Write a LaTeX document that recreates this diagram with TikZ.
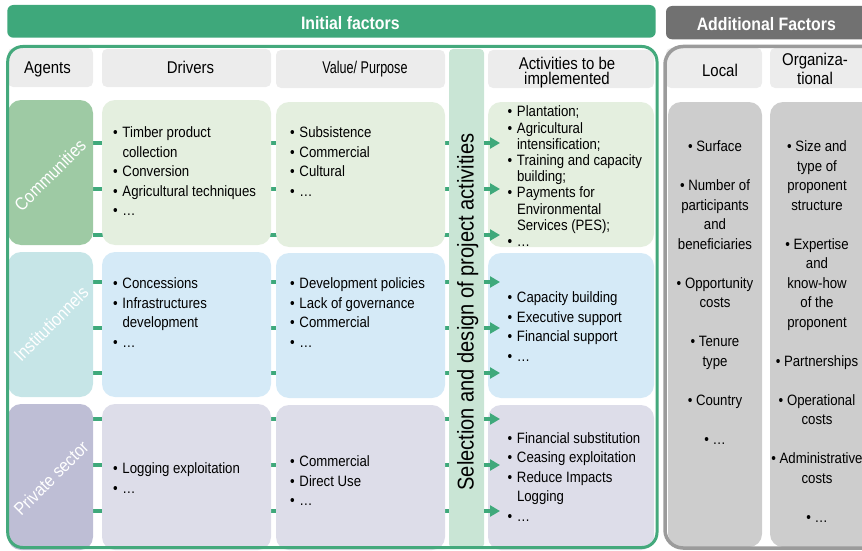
\documentclass[tikz,border=0pt]{standalone}
\usepackage{fontspec}
\setmainfont{Liberation Sans}[FakeStretch=0.88]
\newfontfamily\condensed{Liberation Sans}[FakeStretch=0.74]
\usetikzlibrary{arrows.meta}
\definecolor{gban}{HTML}{3EA87B}
\definecolor{gframe}{HTML}{44A97C}
\definecolor{greyban}{HTML}{717171}
\definecolor{greyframe}{HTML}{9B9B9B}
\definecolor{hdrgrey}{HTML}{ECECEC}
\definecolor{selg}{HTML}{C9E5D5}
\definecolor{agA}{HTML}{9ECAA4}
\definecolor{bxA}{HTML}{E4EFDF}
\definecolor{agB}{HTML}{C6E5E7}
\definecolor{bxB}{HTML}{D5EAF7}
\definecolor{agC}{HTML}{BEBED5}
\definecolor{bxC}{HTML}{DDDDE9}
\definecolor{addg}{HTML}{CDCDCD}
\definecolor{connc}{HTML}{3FA97B}
\pgfdeclarelayer{bg}
\pgfdeclarelayer{fg}
\pgfsetlayers{bg,main,fg}
\newcommand\bl{\makebox[9.5pt][l]{\textbullet}}
\newcommand\ind{\hspace*{9.5pt}}
\newcommand\lf{\fontsize{15}{19.5}\selectfont}
\newcommand\lft{\fontsize{15}{16.2}\selectfont}
\newcommand\hf{\fontsize{17}{15.5}\selectfont}
\newcommand\bnf{\fontsize{18}{20}\selectfont\bfseries}
\newcommand\boxnode[6]{\node[#6, minimum width={#4-#2}, minimum height={#5-#3}] (#1) at (#2,#3) {};}
\begin{document}
\begin{tikzpicture}[x=1pt,y=-1pt,
  every node/.style={inner sep=0pt, outer sep=0pt},
  rbox/.style={rounded corners=13pt, anchor=north west},
  hdr/.style={rounded corners=5pt, fill=hdrgrey, anchor=north west},
  lst/.style={anchor=north west, align=left, font=\lf},
  lstt/.style={anchor=north west, align=left, font=\lft},
  ctr/.style={anchor=north, align=center, font=\lf},
  htxt/.style={anchor=base, font=\hf, align=center},
  conn/.style={draw=connc, line width=3.2pt},
  arr/.style={conn, -{Triangle[length=10pt,width=11pt]}, shorten >=-12pt},
  agtxt/.style={text=white, font=\fontsize{18}{18}\selectfont, rotate=45, anchor=center},
]
\useasboundingbox (0,0) rectangle (862,551);

% banners
\boxnode{ban1}{7.3}{5}{655.7}{37.7}{rbox, rounded corners=6pt, fill=gban}
\node[font=\bnf, text=white, anchor=base] (ban1t) at (350.3,30) {Initial factors};
\boxnode{ban2}{666}{6}{900}{39.3}{rbox, rounded corners=6pt, fill=greyban}
\node[font=\bnf, text=white, anchor=base] (ban2t) at (766.3,30.7) {Additional Factors};

% header cells
\boxnode{hAg}{8}{48}{93}{87}{hdr}
\boxnode{hDr}{102}{49}{271}{87}{hdr}
\boxnode{hVa}{276}{50}{445}{88}{hdr}
\boxnode{hAc}{488}{50}{654}{88}{hdr}
\boxnode{hLo}{666}{48}{762}{88}{hdr}
\boxnode{hOr}{770}{48}{880}{88}{hdr}
\node[htxt] (hAgt) at (47.5,74) {Agents};
\node[htxt] (hDrt) at (190.5,74) {Drivers};
\node[htxt, font=\condensed\hf] (hVat) at (365,74) {Value/ Purpose};
\node[htxt, anchor=north] (hAct) at (567,57) {Activities to be\\implemented};
\node[htxt] (hLot) at (720,76.5) {Local};
\node[htxt, anchor=north, font=\fontsize{17}{19}\selectfont] (hOrt) at (815,53) {Organiza-\\tional};

% selection column
\boxnode{sel}{449}{49}{484}{548}{fill=selg, anchor=north west, rounded corners=4pt}
\node[rotate=90, anchor=base, font=\fontsize{22.8}{24}\selectfont] (selt) at (473.5,312) {Selection and design of project activities};

% row 1
\boxnode{ag1}{8}{100}{93}{245}{rbox, fill=agA}
\boxnode{dr1}{102}{100}{271}{245}{rbox, fill=bxA}
\boxnode{va1}{276}{102}{445}{247}{rbox, fill=bxA}
\boxnode{ac1}{488}{102}{654}{247}{rbox, fill=bxA}
% row 2
\boxnode{ag2}{8}{252}{93}{397}{rbox, fill=agB}
\boxnode{dr2}{102}{252}{271}{397}{rbox, fill=bxB}
\boxnode{va2}{276}{253}{445}{398}{rbox, fill=bxB}
\boxnode{ac2}{488}{253}{654}{398}{rbox, fill=bxB}
% row 3
\boxnode{ag3}{8}{404}{93}{550}{rbox, fill=agC}
\boxnode{dr3}{102}{404}{271}{550}{rbox, fill=bxC}
\boxnode{va3}{276}{405}{445}{550}{rbox, fill=bxC}
\boxnode{ac3}{488}{405}{654}{550}{rbox, fill=bxC}
% additional
\boxnode{lo}{668}{102}{762}{547}{rbox, fill=addg}
\boxnode{or}{770}{102}{890}{547}{rbox, fill=addg}

% agent labels
\node[agtxt] (ag1t) at (50,175) {Communities};
\node[agtxt] (ag2t) at (51,324) {Institutionnels};
\node[agtxt] (ag3t) at (51,478) {Private sector};

% row 1 texts
\node[lst] (dr1t) at (113,126.8) {\bl Timber product\\\ind collection\\\bl Conversion\\\bl Agricultural techniques\\\bl …};
\node[lst] (va1t) at (290,126.8) {\bl Subsistence\\\bl Commercial\\\bl Cultural\\\bl …};
\node[lstt] (ac1t) at (507.5,106) {\bl Plantation;\\\bl Agricultural\\\ind intensification;\\\bl Training and capacity\\\ind building;\\\bl Payments for\\\ind Environmental\\\ind Services (PES);\\\bl …};
% row 2 texts
\node[lst] (dr2t) at (113,277.8) {\bl Concessions\\\bl Infrastructures\\\ind development\\\bl …};
\node[lst] (va2t) at (290,277.8) {\bl Development policies\\\bl Lack of governance\\\bl Commercial\\\bl …};
\node[lst] (ac2t) at (507.5,291.8) {\bl Capacity building\\\bl Executive support\\\bl Financial support\\\bl …};
% row 3 texts
\node[lst] (dr3t) at (113,463) {\bl Logging exploitation\\\bl …};
\node[lst] (va3t) at (290,455.8) {\bl Commercial\\\bl Direct Use\\\bl …};
\node[lst] (ac3t) at (507.5,432.3) {\bl Financial substitution\\\bl Ceasing exploitation\\\bl Reduce Impacts\\\ind Logging\\\bl …};
% additional texts
\node[ctr] (lot) at (715,140.8) {\textbullet\ Surface\\[19.5pt]\textbullet\ Number of\\participants\\and\\beneficiaries\\[19.5pt]\textbullet\ Opportunity\\costs\\[19.5pt]\textbullet\ Tenure\\type\\[19.5pt]\textbullet\ Country\\[19.5pt]\textbullet\ …};
\node[ctr] (ort) at (817,140.8) {\textbullet\ Size and\\type of\\proponent\\structure\\[19.5pt]\textbullet\ Expertise\\and\\know-how\\of the\\proponent\\[19.5pt]\textbullet\ Partnerships\\[19.5pt]\textbullet\ Operational\\costs\\[19.5pt]\textbullet\ Administrative\\costs\\[19.5pt]\textbullet\ …};

% frames
\boxnode{gfr}{7.7}{46.5}{657}{547.5}{anchor=north west, draw=gframe, line width=3pt, rounded corners=15pt}
\boxnode{grf}{665}{46.5}{905}{548}{anchor=north west, draw=greyframe, line width=3.5pt, rounded corners=18pt}

% connectors
\begin{pgfonlayer}{bg}
\foreach \y in {143,189,235} \draw[conn] (ag1.east |- 0,\y) -- (ac1.west |- 0,\y);
\foreach \y in {282,328,373} \draw[conn] (ag2.east |- 0,\y) -- (ac2.west |- 0,\y);
\foreach \y in {419,465,511} \draw[conn] (ag3.east |- 0,\y) -- (ac3.west |- 0,\y);
\end{pgfonlayer}
\begin{pgfonlayer}{fg}
\foreach \y in {143,189,235} \draw[arr] (sel.east |- 0,\y) -- (ac1.west |- 0,\y);
\foreach \y in {282,328,373} \draw[arr] (sel.east |- 0,\y) -- (ac2.west |- 0,\y);
\foreach \y in {419,465,511} \draw[arr] (sel.east |- 0,\y) -- (ac3.west |- 0,\y);
\end{pgfonlayer}
\end{tikzpicture}
\end{document}
